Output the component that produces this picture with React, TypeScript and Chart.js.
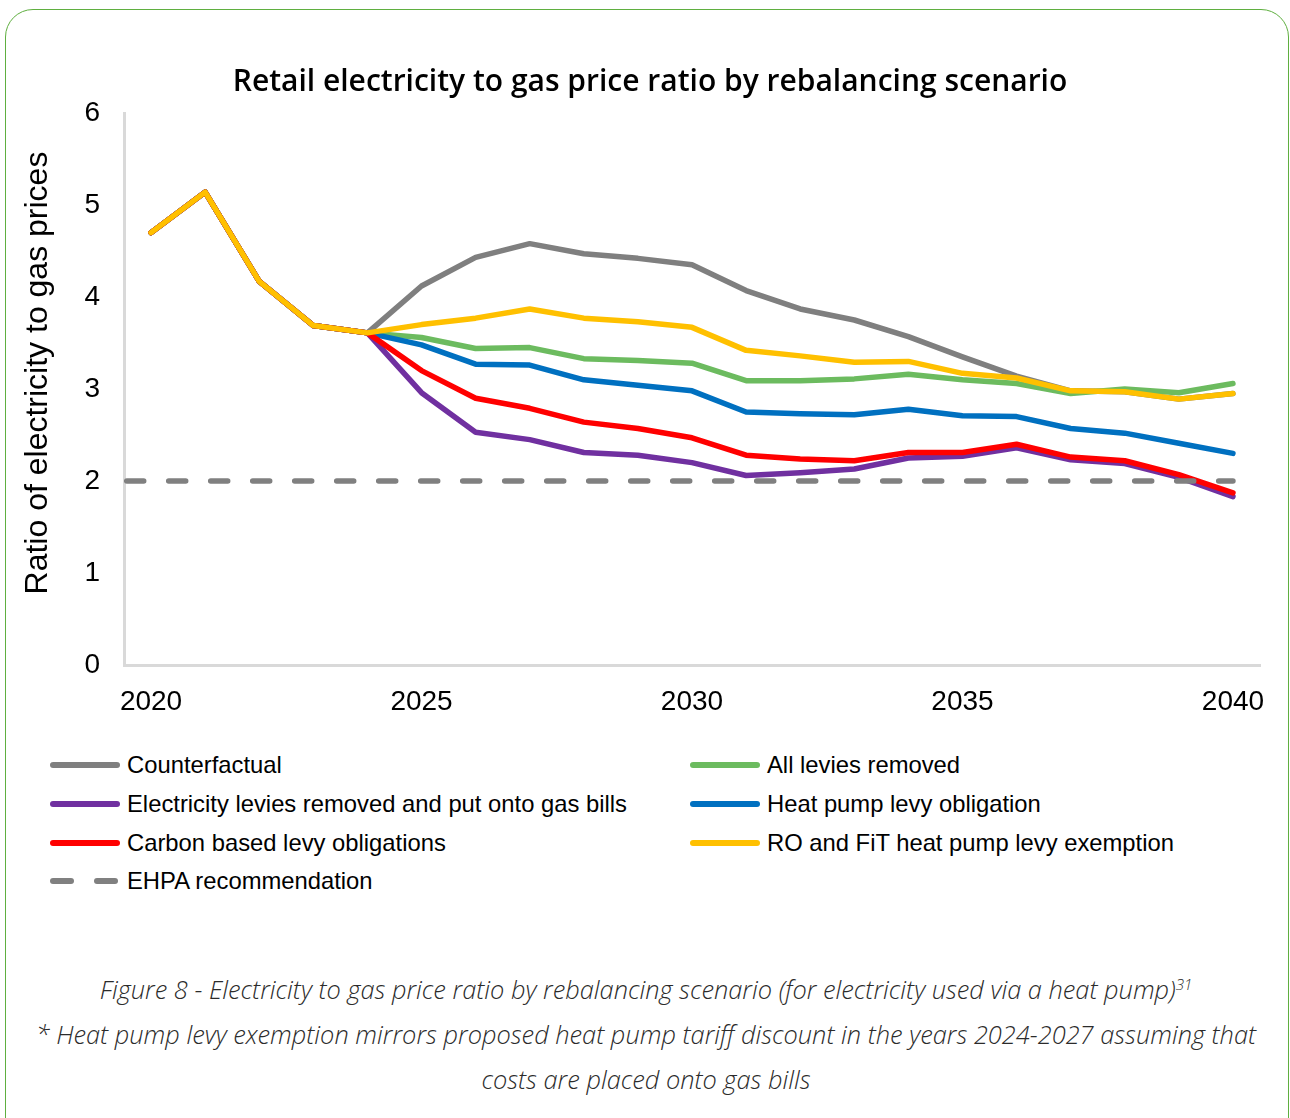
import React, { useEffect, useRef } from "react";
import { Chart, registerables } from "chart.js";
Chart.register(...registerables);

const years = ["2020","2021","2022","2023","2024","2025","2026","2027","2028","2029","2030","2031","2032","2033","2034","2035","2036","2037","2038","2039","2040"];

const counterfactual = [4.70,5.14,4.17,3.69,3.61,4.12,4.43,4.58,4.47,4.42,4.35,4.07,3.87,3.75,3.57,3.35,3.14,2.98,2.97,2.89,2.95];
const allLeviesRemoved = [4.70,5.14,4.17,3.69,3.61,3.56,3.44,3.45,3.33,3.31,3.28,3.09,3.09,3.11,3.16,3.10,3.06,2.95,3.00,2.96,3.06];
const electricityLeviesToGas = [4.70,5.14,4.17,3.69,3.61,2.96,2.53,2.45,2.31,2.28,2.20,2.06,2.09,2.13,2.25,2.27,2.36,2.23,2.19,2.04,1.83];
const heatPumpLevy = [4.70,5.14,4.17,3.69,3.61,3.48,3.27,3.26,3.10,3.04,2.98,2.75,2.73,2.72,2.78,2.71,2.70,2.57,2.52,2.41,2.30];
const carbonBasedLevy = [4.70,5.14,4.17,3.69,3.61,3.20,2.90,2.79,2.64,2.57,2.47,2.28,2.24,2.22,2.31,2.31,2.40,2.26,2.22,2.07,1.87];
const roFitExemption = [4.70,5.14,4.17,3.69,3.61,3.70,3.77,3.87,3.77,3.73,3.67,3.42,3.36,3.29,3.30,3.17,3.12,2.98,2.97,2.89,2.95];
const ehpaYears = [2019.55, 2040];
const ehpaValues = [2, 2];

const yTicks = [0, 1, 2, 3, 4, 5, 6];
const yTitle = "Ratio of electricity to gas prices";

const seriesLabels = [
  "Counterfactual",
  "All levies removed",
  "Electricity levies removed and put onto gas bills",
  "Heat pump levy obligation",
  "Carbon based levy obligations",
  "RO and FiT heat pump levy exemption",
  "EHPA recommendation",
];
const seriesColors = ["#7F7F7F", "#6CBB5F", "#7030A0", "#0070C0", "#FF0000", "#FFC000", "#808080"];

const AXIS_FONT = "'Liberation Sans', Arial, sans-serif";

const yTitlePlugin = {
  id: "yTitleShifted",
  afterDraw(chart: any) {
    const ctx = chart.ctx;
    ctx.save();
    ctx.translate(38, 373);
    ctx.rotate(-Math.PI / 2);
    ctx.font = `32px ${AXIS_FONT}`;
    ctx.fillStyle = "#000";
    ctx.textAlign = "center";
    ctx.textBaseline = "middle";
    ctx.fillText(yTitle, 0, 0);
    ctx.restore();
  },
};

export default function App() {
  const ref = useRef<HTMLCanvasElement>(null);

  useEffect(() => {
    document.body.style.overflow = "hidden";
    const seriesData = [counterfactual, allLeviesRemoved, electricityLeviesToGas, heatPumpLevy, carbonBasedLevy, roFitExemption];
    const orders = [6, 5, 4, 3, 2, 1];
    const datasets: any[] = seriesData.map((d, i) => ({
      label: seriesLabels[i],
      data: d,
      borderColor: seriesColors[i],
      backgroundColor: seriesColors[i],
      borderWidth: 5.5,
      pointRadius: 0,
      tension: 0,
      fill: false,
      borderJoinStyle: "round",
      borderCapStyle: "round",
      order: orders[i],
      xAxisID: "x",
    }));
    datasets.push({
      label: seriesLabels[6],
      data: ehpaYears.map((x, i) => ({ x, y: ehpaValues[i] })),
      borderColor: seriesColors[6],
      borderWidth: 5.5,
      borderDash: [17, 25],
      borderCapStyle: "round",
      pointRadius: 0,
      tension: 0,
      fill: false,
      order: 0,
      xAxisID: "x2",
    });

    const chart = new Chart(ref.current!, {
      type: "line",
      data: { labels: years, datasets },
      plugins: [yTitlePlugin],
      options: {
        animation: false,
        responsive: false,
        maintainAspectRatio: false,
        layout: { padding: { left: 0, right: 30, top: 113, bottom: 0 } },
        plugins: {
          legend: { display: false },
          tooltip: { enabled: false },
          title: { display: false },
        },
        scales: {
          x: {
            type: "category",
            offset: true,
            grid: { display: false, drawTicks: false, offset: true },
            border: { display: true, color: "#D9D9D9", width: 3 },
            ticks: {
              color: "#000",
              font: { family: AXIS_FONT, size: 28 },
              padding: 20,
              maxRotation: 0,
              autoSkip: false,
              callback: (_v: any, i: number) => (i % 5 === 0 ? years[i] : ""),
            },
            afterFit: (s: any) => { s.height = 65; },
          },
          x2: {
            type: "linear",
            display: false,
            min: 2019.5,
            max: 2040.5,
          },
          y: {
            min: 0,
            max: 6,
            grid: { display: false, drawTicks: false },
            border: { display: true, color: "#D9D9D9", width: 3 },
            afterBuildTicks: (s: any) => { s.ticks = yTicks.map((v) => ({ value: v })); },
            ticks: {
              color: "#000",
              font: { family: AXIS_FONT, size: 28 },
              padding: 24,
            },
            title: { display: false },
            afterFit: (s: any) => { s.width = 124; },
          },
        },
      } as any,
    });
    return () => chart.destroy();
  }, []);

  const legendRows = [
    [0, 1],
    [2, 3],
    [4, 5],
    [6],
  ];
  const rowY = [765, 804, 843, 881];

  const swatch = (i: number) => {
    if (i === 6) {
      return (
        <div style={{ position: "absolute", left: 0, top: -3, width: 70, height: 6 }}>
          <div style={{ position: "absolute", left: 0, top: 0, width: 24, height: 6, borderRadius: 3, background: seriesColors[6] }} />
          <div style={{ position: "absolute", left: 44, top: 0, width: 24, height: 6, borderRadius: 3, background: seriesColors[6] }} />
        </div>
      );
    }
    return <div style={{ position: "absolute", left: 0, top: -3, width: 70, height: 6, borderRadius: 3, background: seriesColors[i] }} />;
  };

  return (
    <div style={{ position: "absolute", left: 0, top: 0, width: 1290, height: 1118, overflow: "hidden", background: "#fff" }}>
      <div
        style={{
          position: "absolute",
          left: 5,
          top: 9,
          width: 1284,
          height: 1140,
          border: "1.5px solid #5FAF40",
          borderRadius: 28,
          boxSizing: "border-box",
        }}
      />
      <canvas ref={ref} width={1290} height={730} style={{ position: "absolute", left: 0, top: 0, width: 1290, height: 730 }} />
      <div
        style={{
          position: "absolute",
          left: 0,
          top: 58,
          width: 1300,
          textAlign: "center",
          fontFamily: "'Open Sans', sans-serif",
          fontWeight: 600,
          fontSize: 30,
          lineHeight: "44px",
          color: "#000",
          whiteSpace: "nowrap",
        }}
      >
        Retail electricity to gas price ratio by rebalancing scenario
      </div>
      {legendRows.map((row, r) =>
        row.map((i, c) => (
          <div key={i} style={{ position: "absolute", left: c === 0 ? 50 : 690, top: rowY[r], height: 0 }}>
            {swatch(i)}
            <div
              style={{
                position: "absolute",
                left: 77,
                top: -15,
                lineHeight: "30px",
                fontFamily: AXIS_FONT,
                fontSize: 23.8,
                color: "#000",
                whiteSpace: "nowrap",
              }}
            >
              {seriesLabels[i]}
            </div>
          </div>
        ))
      )}
      <div
        style={{
          position: "absolute",
          left: 0,
          top: 967,
          width: 1292,
          textAlign: "center",
          fontFamily: "'Open Sans', sans-serif",
          fontStyle: "italic",
          fontWeight: 300,
          fontSize: 25.4,
          lineHeight: "45px",
          color: "#2B2B2B",
          whiteSpace: "nowrap",
        }}
      >
        Figure 8 - Electricity to gas price ratio by rebalancing scenario (for electricity used via a heat pump)
        <sup style={{ fontSize: 15, verticalAlign: "9px", lineHeight: 0 }}>31</sup>
        <br />
        * Heat pump levy exemption mirrors proposed heat pump tariff discount in the years 2024-2027 assuming that
        <br />
        costs are placed onto gas bills
      </div>
    </div>
  );
}
